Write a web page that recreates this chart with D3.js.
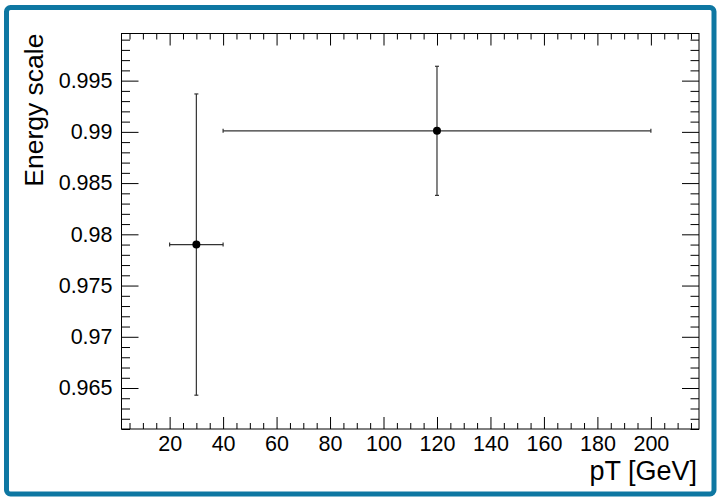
<!DOCTYPE html>
<html lang="en">
<head>
    <meta charset="UTF-8">
    <title>Energy scale vs pT</title>
    <style>
        body { margin: 0; background: #fff; }
        svg text { font-family: "Liberation Sans", Arial, Helvetica, sans-serif; fill: #000; }
        .tick line { stroke: #000; stroke-width: 1; }
        .axis path.domain { display: none; }
        .err { stroke: #333; stroke-width: 1.2; }
    </style>
</head>
<body>
    <svg id="chart" width="717" height="499"></svg>

    <script src="https://d3js.org/d3.v7.min.js"></script>
    <script>
        // data
        const ptCenters = [30, 120];
        const ptErrors = [10, 80];
        const scaleValues = [0.979, 0.9901];
        const scaleErrors = [0.0147, 0.0063];

        const xTickLabels = [20, 40, 60, 80, 100, 120, 140, 160, 180, 200];
        const yTickLabels = [0.965, 0.97, 0.975, 0.98, 0.985, 0.99, 0.995];

        const svg = d3.select("#chart");

        // blue frame around the canvas
        svg.append("rect")
           .attr("x", 6.5).attr("y", 7.5)
           .attr("width", 707.5).attr("height", 486.5)
           .attr("rx", 4)
           .attr("fill", "none")
           .attr("stroke", "#0e77a2")
           .attr("stroke-width", 5);

        const plotLeft = 121.5, plotRight = 699, plotTop = 33.5, plotBottom = 429;

        const x = d3.scaleLinear().domain([2, 218]).range([plotLeft, plotRight]);
        const y = d3.scaleLinear().domain([0.961, 0.9996]).range([plotBottom, plotTop]);

        const xMinor = d3.range(5, 218, 5).filter(v => v % 20 !== 0);
        const yMinor = d3.range(961, 1000, 1).filter(v => v % 5 !== 0).map(v => v / 1000);

        const fmt = d => String(+d.toFixed(3));

        // x axes (bottom with labels, top mirrored)
        svg.append("g").attr("class", "axis")
           .attr("transform", `translate(0,${plotBottom})`)
           .call(d3.axisBottom(x).tickValues(xTickLabels).tickSize(-12).tickPadding(7).tickFormat(d3.format("d")))
           .selectAll("text").attr("font-size", 21.5);
        svg.append("g").attr("class", "axis")
           .attr("transform", `translate(0,${plotBottom})`)
           .call(d3.axisBottom(x).tickValues(xMinor).tickSize(-6).tickFormat(""));
        svg.append("g").attr("class", "axis")
           .attr("transform", `translate(0,${plotTop})`)
           .call(d3.axisTop(x).tickValues(xTickLabels).tickSize(-12).tickFormat(""));
        svg.append("g").attr("class", "axis")
           .attr("transform", `translate(0,${plotTop})`)
           .call(d3.axisTop(x).tickValues(xMinor).tickSize(-6).tickFormat(""));

        // y axes (left with labels, right mirrored)
        svg.append("g").attr("class", "axis")
           .attr("transform", `translate(${plotLeft},0)`)
           .call(d3.axisLeft(y).tickValues(yTickLabels).tickSize(-17).tickPadding(9).tickFormat(fmt))
           .selectAll("text").attr("font-size", 21.5);
        svg.append("g").attr("class", "axis")
           .attr("transform", `translate(${plotLeft},0)`)
           .call(d3.axisLeft(y).tickValues(yMinor).tickSize(-8.5).tickFormat(""));
        svg.append("g").attr("class", "axis")
           .attr("transform", `translate(${plotRight},0)`)
           .call(d3.axisRight(y).tickValues(yTickLabels).tickSize(-17).tickFormat(""));
        svg.append("g").attr("class", "axis")
           .attr("transform", `translate(${plotRight},0)`)
           .call(d3.axisRight(y).tickValues(yMinor).tickSize(-8.5).tickFormat(""));

        // frame
        svg.append("rect")
           .attr("x", plotLeft).attr("y", plotTop)
           .attr("width", plotRight - plotLeft).attr("height", plotBottom - plotTop)
           .attr("fill", "none").attr("stroke", "#000").attr("stroke-width", 1);

        // axis titles
        svg.append("text")
           .attr("x", 697).attr("y", 480)
           .attr("text-anchor", "end")
           .attr("font-size", 27)
           .text("pT [GeV]");
        svg.append("text")
           .attr("transform", "translate(43,33.5) rotate(-90)")
           .attr("text-anchor", "end")
           .attr("font-size", 26.5)
           .text("Energy scale");

        // error bars and markers
        const pts = ptCenters.map((p, i) => ({x: p, ex: ptErrors[i], y: scaleValues[i], ey: scaleErrors[i]}));
        const g = svg.append("g");
        const cap = 2;

        pts.forEach(d => {
            const cx = x(d.x), cy = y(d.y);
            const x0 = x(d.x - d.ex), x1 = x(d.x + d.ex);
            const y0 = y(d.y - d.ey), y1 = y(d.y + d.ey);
            g.append("line").attr("class", "err").attr("x1", x0).attr("x2", x1).attr("y1", cy).attr("y2", cy);
            g.append("line").attr("class", "err").attr("x1", cx).attr("x2", cx).attr("y1", y0).attr("y2", y1);
            g.append("line").attr("class", "err").attr("x1", x0).attr("x2", x0).attr("y1", cy - cap).attr("y2", cy + cap);
            g.append("line").attr("class", "err").attr("x1", x1).attr("x2", x1).attr("y1", cy - cap).attr("y2", cy + cap);
            g.append("line").attr("class", "err").attr("x1", cx - cap).attr("x2", cx + cap).attr("y1", y0).attr("y2", y0);
            g.append("line").attr("class", "err").attr("x1", cx - cap).attr("x2", cx + cap).attr("y1", y1).attr("y2", y1);
        });

        g.selectAll("circle")
         .data(pts)
         .enter().append("circle")
         .attr("cx", d => x(d.x))
         .attr("cy", d => y(d.y))
         .attr("r", 4)
         .attr("fill", "#000");
    </script>
</body>
</html>
